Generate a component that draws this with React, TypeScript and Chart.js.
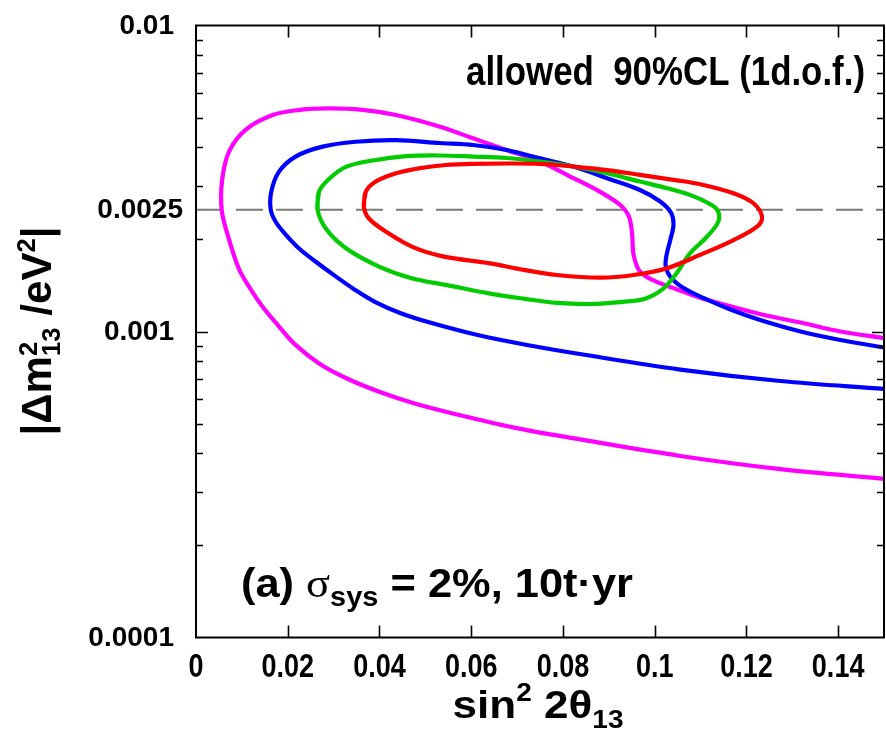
import React, { useEffect, useRef } from 'react';
import { Chart, registerables } from 'chart.js';

Chart.register(...registerables);

// ---------- data (sin^2 2θ13 , |Δm^2_13| / eV^2) ----------
const magentaX = [0.150, 0.1274, 0.1056, 0.0837, 0.0691, 0.0547, 0.0473, 0.0401, 0.0329, 0.0270, 0.0217, 0.0183, 0.0146, 0.0117, 0.0093, 0.0069, 0.0056, 0.0057, 0.0072, 0.0108, 0.0167, 0.0226, 0.0290, 0.0363, 0.0436, 0.0532, 0.0604, 0.0677, 0.0750, 0.0823, 0.0881, 0.0925, 0.0944, 0.0951, 0.0954, 0.0968, 0.1001, 0.1045, 0.1099, 0.1165, 0.1241, 0.1318, 0.1405, 0.150];
const magentaY = [0.000330, 0.000355, 0.000392, 0.000444, 0.000486, 0.000546, 0.000584, 0.000634, 0.000702, 0.000783, 0.000904, 0.00103, 0.00120, 0.00139, 0.00161, 0.00207, 0.00250, 0.00313, 0.00387, 0.00456, 0.00510, 0.00530, 0.00536, 0.00530, 0.00510, 0.00467, 0.00428, 0.00392, 0.00359, 0.00317, 0.00286, 0.00259, 0.00237, 0.00207, 0.00178, 0.00157, 0.00146, 0.00138, 0.00129, 0.00121, 0.00113, 0.00107, 0.00100, 0.000952];

const blueX = [0.150, 0.1274, 0.1056, 0.0837, 0.0728, 0.0619, 0.0510, 0.0445, 0.0390, 0.0346, 0.0303, 0.0259, 0.0226, 0.0196, 0.0174, 0.0163, 0.0164, 0.0181, 0.0217, 0.0276, 0.0348, 0.0436, 0.0532, 0.0604, 0.0677, 0.0750, 0.0823, 0.0896, 0.0968, 0.1012, 0.1036, 0.1041, 0.1034, 0.1026, 0.1024, 0.1034, 0.1062, 0.1110, 0.1165, 0.1230, 0.1318, 0.1405, 0.150];
const blueY = [0.000649, 0.000689, 0.000751, 0.000844, 0.000900, 0.000970, 0.00107, 0.00115, 0.00125, 0.00137, 0.00152, 0.00170, 0.00186, 0.00207, 0.00228, 0.00250, 0.00286, 0.00333, 0.00373, 0.00402, 0.00417, 0.00422, 0.00413, 0.00407, 0.00392, 0.00368, 0.00346, 0.00317, 0.00290, 0.00266, 0.00244, 0.00223, 0.00199, 0.00178, 0.00164, 0.00151, 0.00139, 0.00128, 0.00118, 0.00109, 0.00100, 0.000938, 0.000887];

const greenX = [0.0265, 0.0268, 0.0290, 0.0327, 0.0385, 0.0458, 0.0532, 0.0604, 0.0677, 0.0750, 0.0823, 0.0896, 0.0968, 0.1027, 0.1078, 0.1112, 0.1136, 0.1139, 0.1114, 0.1077, 0.1045, 0.1016, 0.0979, 0.0931, 0.0859, 0.0787, 0.0714, 0.0641, 0.0545, 0.0472, 0.0399, 0.0327, 0.0283];
const greenY = [0.00250, 0.00286, 0.00315, 0.00345, 0.00362, 0.00374, 0.00376, 0.00373, 0.00369, 0.00359, 0.00346, 0.00329, 0.00309, 0.00294, 0.00279, 0.00265, 0.00250, 0.00229, 0.00204, 0.00180, 0.00153, 0.00137, 0.00128, 0.00125, 0.00123, 0.00124, 0.00128, 0.00133, 0.00142, 0.00149, 0.00163, 0.00187, 0.00217];

const redX = [0.0366, 0.0370, 0.0392, 0.0436, 0.0494, 0.0545, 0.0604, 0.0677, 0.0750, 0.0823, 0.0896, 0.0968, 0.1041, 0.1099, 0.1172, 0.1216, 0.1234, 0.1223, 0.1172, 0.1099, 0.1027, 0.0954, 0.0881, 0.0787, 0.0714, 0.0641, 0.0538, 0.0472, 0.0414, 0.0377];
const redY = [0.00255, 0.00286, 0.00309, 0.00329, 0.00343, 0.00350, 0.00353, 0.00354, 0.00353, 0.00346, 0.00337, 0.00325, 0.00313, 0.00303, 0.00283, 0.00262, 0.00237, 0.00220, 0.00199, 0.00178, 0.00161, 0.00153, 0.00150, 0.00153, 0.00159, 0.00167, 0.00176, 0.00189, 0.00212, 0.00234];

const refLineX = [0, 0.15];
const refLineY = [0.0025, 0.0025];

const xMin = 0;
const xMax = 0.15;
const yMin = 0.0001;
const yMax = 0.01;

const xTickValues = [0, 0.02, 0.04, 0.06, 0.08, 0.1, 0.12, 0.14];
const xTickLabels = ['0', '0.02', '0.04', '0.06', '0.08', '0.1', '0.12', '0.14'];
const yTickValues = [0.0001, 0.001, 0.0025, 0.01];
const yTickLabels = ['0.0001', '0.001', '0.0025', '0.01'];
const yMajorMarkValues = [0.001];
const yMinorMarkValues = [0.0002, 0.0003, 0.0004, 0.0005, 0.0006, 0.0007, 0.0008, 0.0009, 0.002, 0.003, 0.004, 0.005, 0.006, 0.007, 0.008, 0.009];

// ---------- helpers ----------
const SANS = '"Liberation Sans", Arial, Helvetica, sans-serif';
const SERIF = '"Liberation Serif", "Times New Roman", serif';

type Pt = { x: number; y: number };
const zip = (xs: number[], ys: number[]): Pt[] => xs.map((x, i) => ({ x, y: ys[i] }));
const closed = (pts: Pt[]): Pt[] => [...pts, pts[0], pts[1]];

type Run = {
  text?: string;
  sup?: string;
  sub?: string;
  size: number;
  weight?: string;
  family?: string;
  dy?: number;
  supDy?: number;
  subDy?: number;
};

const fontOf = (r: Run) => `${r.weight ?? 'bold'} ${r.size}px ${r.family ?? SANS}`;

function runWidth(ctx: CanvasRenderingContext2D, r: Run): number {
  ctx.font = fontOf(r);
  if (r.text !== undefined) return ctx.measureText(r.text).width;
  return Math.max(ctx.measureText(r.sup ?? '').width, ctx.measureText(r.sub ?? '').width);
}

function drawRuns(
  ctx: CanvasRenderingContext2D,
  runs: Run[],
  x: number,
  baseline: number,
  align: 'left' | 'center' | 'right',
  fitWidth?: number,
  sy: number = 1
) {
  const widths = runs.map((r) => runWidth(ctx, r));
  const total = widths.reduce((a, b) => a + b, 0);
  const sx = fitWidth ? fitWidth / total : 1;
  const w = total * sx;
  const start = align === 'left' ? x : align === 'center' ? x - w / 2 : x - w;
  ctx.save();
  ctx.translate(start, baseline);
  ctx.scale(sx, sy);
  ctx.fillStyle = '#000';
  ctx.textAlign = 'left';
  ctx.textBaseline = 'alphabetic';
  let cx = 0;
  runs.forEach((r, i) => {
    ctx.font = fontOf(r);
    if (r.text !== undefined) {
      ctx.fillText(r.text, cx, r.dy ?? 0);
    } else {
      if (r.sup) ctx.fillText(r.sup, cx, r.supDy ?? 0);
      if (r.sub) ctx.fillText(r.sub, cx, r.subDy ?? 0);
    }
    cx += widths[i];
  });
  ctx.restore();
}

const framePlugin = {
  id: 'frameAndText',
  afterDraw(chart: any) {
    const ctx: CanvasRenderingContext2D = chart.ctx;
    const { left, right, top, bottom } = chart.chartArea;
    const xs = chart.scales.x;
    const ys = chart.scales.y;
    ctx.save();
    ctx.strokeStyle = '#000';
    ctx.lineCap = 'butt';

    // tick marks (inward, all four sides)
    ctx.lineWidth = 1.6;
    ctx.beginPath();
    xTickValues.forEach((v) => {
      if (v <= xMin || v >= xMax) return;
      const px = Math.round(xs.getPixelForValue(v)) + 0.5;
      ctx.moveTo(px, bottom);
      ctx.lineTo(px, bottom - 12);
      ctx.moveTo(px, top);
      ctx.lineTo(px, top + 12);
    });
    yMajorMarkValues.forEach((v) => {
      const py = Math.round(ys.getPixelForValue(v)) + 0.5;
      ctx.moveTo(left, py);
      ctx.lineTo(left + 12, py);
      ctx.moveTo(right, py);
      ctx.lineTo(right - 12, py);
    });
    yMinorMarkValues.forEach((v) => {
      const py = Math.round(ys.getPixelForValue(v)) + 0.5;
      ctx.moveTo(left, py);
      ctx.lineTo(left + 7, py);
      ctx.moveTo(right, py);
      ctx.lineTo(right - 7, py);
    });
    ctx.stroke();

    // frame
    ctx.lineWidth = 2;
    ctx.strokeRect(left, top, right - left, bottom - top);
    ctx.restore();

    // x tick labels (positioned by the x scale)
    xTickValues.forEach((v, i) => {
      drawRuns(ctx, [{ text: xTickLabels[i], size: 27 }], xs.getPixelForValue(v), 677, 'center', undefined, 1.2);
    });

    // y tick labels (positioned by the log y scale); the 0.0025 label sits a little further right
    ctx.save();
    ctx.fillStyle = '#000';
    ctx.font = `bold 28px ${SANS}`;
    ctx.textAlign = 'right';
    ctx.textBaseline = 'middle';
    yTickValues.forEach((v, i) => {
      const lab = yTickLabels[i];
      const gap = lab === '0.0025' ? 13 : 22;
      ctx.fillText(lab, left - gap, ys.getPixelForValue(v) + 1);
    });
    ctx.restore();

    // annotation: top right
    drawRuns(ctx, [{ text: 'allowed  90%CL (1d.o.f.)', size: 36 }], 865, 85, 'right', 399, 1.12);

    // annotation: bottom left
    drawRuns(
      ctx,
      [
        { text: '(a) ', size: 39 },
        { text: 'σ', size: 40, weight: 'normal', family: SERIF },
        { text: 'sys', size: 26, dy: 9 },
        { text: ' = 2%, 10t·yr', size: 39 },
      ],
      241,
      597,
      'left',
      392,
      1.05
    );

    // x-axis title
    drawRuns(
      ctx,
      [
        { text: 'sin', size: 33 },
        { text: '2', size: 21, dy: -14 },
        { text: ' 2', size: 33 },
        { text: 'θ', size: 33 },
        { text: '13', size: 21, dy: 8 },
      ],
      538,
      718,
      'center',
      171,
      1.2
    );

    // y-axis title (rotated)
    ctx.save();
    ctx.translate(51, 331);
    ctx.rotate(-Math.PI / 2);
    drawRuns(
      ctx,
      [
        { text: '|Δm', size: 43 },
        { sup: '2', sub: '13', size: 26, supDy: -14, subDy: 9 },
        { text: ' /eV', size: 43 },
        { text: '2', size: 26, dy: -16 },
        { text: '|', size: 43 },
      ],
      0,
      0,
      'center',
      209
    );
    ctx.restore();
  },
};

export default function App() {
  const canvasRef = useRef<HTMLCanvasElement | null>(null);

  useEffect(() => {
    document.body.style.margin = '0';
    const canvas = canvasRef.current;
    if (!canvas) return;

    const lineDs = (label: string, data: Pt[], color: string, order: number) => ({
      label,
      data,
      showLine: true,
      borderColor: color,
      backgroundColor: color,
      borderWidth: 4.2,
      pointRadius: 0,
      tension: 0.35,
      fill: false,
      order,
    });

    const chart = new Chart(canvas, {
      type: 'scatter',
      data: {
        datasets: [
          lineDs('red', closed(zip(redX, redY)), '#ff0000', 1),
          lineDs('green', closed(zip(greenX, greenY)), '#00cc00', 2),
          lineDs('blue', zip(blueX, blueY), '#0000ff', 3),
          lineDs('magenta', zip(magentaX, magentaY), '#ff00ff', 4),
          {
            label: 'ref',
            data: zip(refLineX, refLineY),
            showLine: true,
            borderColor: '#7a7a7a',
            borderWidth: 2,
            borderDash: [27, 13],
            pointRadius: 0,
            fill: false,
            order: 5,
          } as any,
        ],
      },
      options: {
        animation: false,
        responsive: false,
        devicePixelRatio: 1,
        events: [],
        layout: { padding: { left: 0, right: 2, top: 25.5, bottom: 0 } },
        plugins: { legend: { display: false }, tooltip: { enabled: false } },
        scales: {
          x: {
            type: 'linear',
            min: xMin,
            max: xMax,
            afterBuildTicks: (s: any) => {
              s.ticks = xTickValues.map((v) => ({ value: v }));
            },
            afterFit: (s: any) => {
              s.height = 97.5;
              s.paddingLeft = 0;
              s.paddingRight = 0;
              s.paddingTop = 0;
              s.paddingBottom = 0;
            },
            grid: { display: false, drawTicks: false },
            border: { display: false },
            ticks: { display: false },
          },
          y: {
            type: 'logarithmic',
            min: yMin,
            max: yMax,
            afterBuildTicks: (s: any) => {
              s.ticks = yTickValues.map((v) => ({ value: v }));
            },
            afterFit: (s: any) => {
              s.width = 196;
              s.paddingLeft = 0;
              s.paddingRight = 0;
              s.paddingTop = 0;
              s.paddingBottom = 0;
            },
            grid: { display: false, drawTicks: false },
            border: { display: false },
            ticks: { display: false },
          },
        },
      } as any,
      plugins: [framePlugin],
    });

    return () => chart.destroy();
  }, []);

  return (
    <div style={{ position: 'absolute', left: 0, top: 0, width: 886, height: 735, background: '#fff' }}>
      <canvas ref={canvasRef} width={886} height={735} />
    </div>
  );
}
